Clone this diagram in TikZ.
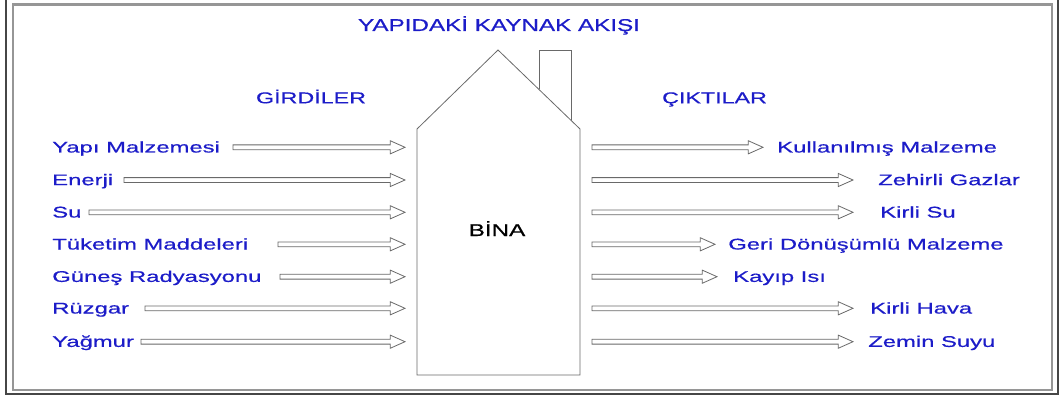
\documentclass[tikz,border=0pt]{standalone}
\usepackage{fontspec}
\usetikzlibrary{calc}
\newfontfamily\bodyf{Liberation Sans}[FakeStretch=1.54,FakeBold=0.6]
\newfontfamily\headf{Liberation Sans}[FakeStretch=1.48,FakeBold=0.5]
\newfontfamily\titlef{Liberation Sans}[FakeStretch=1.42,FakeBold=0.5]
\definecolor{txtblue}{RGB}{28,28,200}
\definecolor{linegray}{RGB}{105,105,105}
\definecolor{framegray}{RGB}{150,150,150}
\definecolor{framedark}{RGB}{70,70,70}
\begin{document}
\begin{tikzpicture}[x=0.75pt,y=-0.75pt,
  inlabel/.style={anchor=base west,inner sep=0pt,text=txtblue,font=\bodyf\fontsize{11.6}{14}\selectfont},
  outlabel/.style={inlabel},
  heading/.style={anchor=base,inner sep=0pt,text=txtblue,font=\headf\fontsize{11.8}{14}\selectfont},
  % hollow block arrow: thin shaft, open triangular head
  flow/.style={draw=linegray,fill=white,line width=0.6pt,line join=miter,
    to path={let \p1=(\tikztostart),\p2=(\tikztotarget) in
      (\x1,\y1+1.8pt) -- (\x2-11pt,\y1+1.8pt) -- (\x2-11pt,\y1+4.9pt) -- (\x2,\y1)
      -- (\x2-11pt,\y1-4.9pt) -- (\x2-11pt,\y1-1.8pt) -- (\x1,\y1-1.8pt) -- cycle}},
  house/.style={draw=linegray,line width=0.6pt,line join=miter}]
\useasboundingbox (0,0) rectangle (1059,399);

% frame
\draw[framedark,line width=0.8pt] (6,-3) rectangle (1058,394);
\draw[framegray,line width=1.6pt] (13,4.5) rectangle (1052,390);

% headings
\node[anchor=base,inner sep=0pt,text=txtblue,font=\titlef\fontsize{12.8}{15}\selectfont] (title) at (499,31) {YAPIDAKİ KAYNAK AKIŞI};
\node[heading] (girdi) at (311,103.3) {GİRDİLER};
\node[heading] (cikti) at (714.5,103.3) {ÇIKTILAR};

% building
\draw[house] (417,375) -- (417,129) -- (498,50) -- (580,129) -- (580,375) -- cycle;
\draw[house] (539,89.5) -- (539,50) -- (571,50) -- (571,120.3);
\node[anchor=base,inner sep=0pt,font=\titlef\fontsize{12.8}{15}\selectfont] (bina) at (497,236) {BİNA};

% inputs
\node[inlabel] (i1) at (52,152.5) {Yapı Malzemesi};
\node[inlabel] (i2) at (52,185.2) {Enerji};
\node[inlabel] (i3) at (52,217.5) {Su};
\node[inlabel] (i4) at (52,249.5) {Tüketim Maddeleri};
\node[inlabel] (i5) at (52,281.9) {Güneş Radyasyonu};
\node[inlabel] (i6) at (52,313.5) {Rüzgar};
\node[inlabel] (i7) at (52,346.9) {Yağmur};

\coordinate (is1) at (233,147.3);  \coordinate (ie1) at (405,147.3);
\coordinate (is2) at (124,180);    \coordinate (ie2) at (405,180);
\coordinate (is3) at (89,212.3);   \coordinate (ie3) at (405,212.3);
\coordinate (is4) at (278,244.3);  \coordinate (ie4) at (405,244.3);
\coordinate (is5) at (280,276.7);  \coordinate (ie5) at (405,276.7);
\coordinate (is6) at (145,308.3);  \coordinate (ie6) at (405,308.3);
\coordinate (is7) at (141,341.7);  \coordinate (ie7) at (405,341.7);
\foreach \k in {1,...,7} \path[flow] (is\k) to (ie\k);

% outputs
\node[outlabel] (o1) at (777,152.5) {Kullanılmış Malzeme};
\node[outlabel] (o2) at (878,185.2) {Zehirli Gazlar};
\node[outlabel] (o3) at (880,217.5) {Kirli Su};
\node[outlabel] (o4) at (728,249.5) {Geri Dönüşümlü Malzeme};
\node[outlabel] (o5) at (733,281.9) {Kayıp Isı};
\node[outlabel] (o6) at (870,313.5) {Kirli Hava};
\node[outlabel] (o7) at (868,346.9) {Zemin Suyu};

\coordinate (os1) at (592,147.3);  \coordinate (oe1) at (763,147.3);
\coordinate (os2) at (592,180);    \coordinate (oe2) at (853,180);
\coordinate (os3) at (592,212.3);  \coordinate (oe3) at (853,212.3);
\coordinate (os4) at (592,244.3);  \coordinate (oe4) at (715,244.3);
\coordinate (os5) at (592,276.7);  \coordinate (oe5) at (717,276.7);
\coordinate (os6) at (592,308.3);  \coordinate (oe6) at (853,308.3);
\coordinate (os7) at (592,341.7);  \coordinate (oe7) at (853,341.7);
\foreach \k in {1,...,7} \path[flow] (os\k) to (oe\k);
\end{tikzpicture}
\end{document}
